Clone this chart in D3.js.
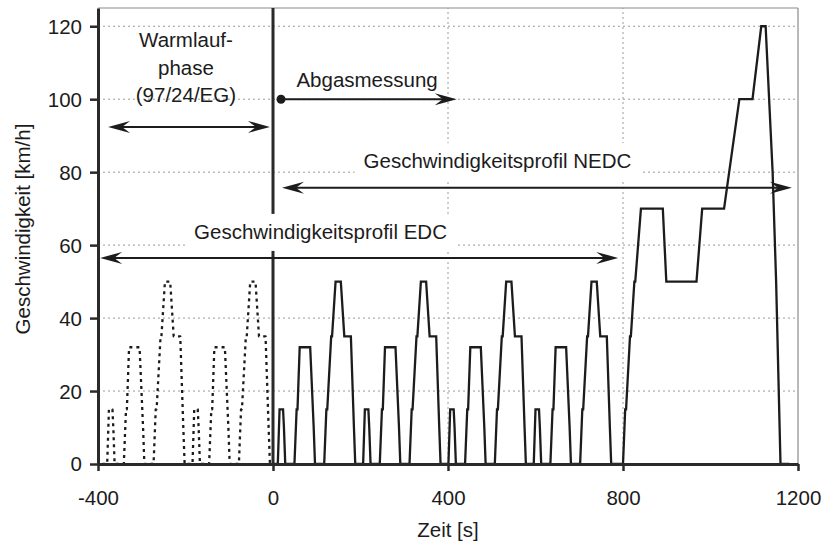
<!DOCTYPE html>
<html>
<head>
<meta charset="utf-8">
<script src="https://cdn.jsdelivr.net/npm/d3@7"></script>
<style>
  html, body { margin: 0; padding: 0; background: #fff; }
  svg { display: block; }
  text { font-family: "Liberation Sans", Arial, Helvetica, sans-serif; fill: #1c1c1c; }
</style>
</head>
<body>
<svg id="chart" width="830" height="545"></svg>
<script>
// Warm-up phase: two urban (ECE) cycles before the measurement starts
const warmupTime = [
  -390, -379, -375, -367, -365, -362, -341, -336, -334, -329, -305, -297, -294,
  -273, -268, -266, -257, -255, -247, -235, -227, -214, -212, -205, -202,
  -195, -184, -180, -172, -170, -167, -146, -141, -139, -134, -110, -102, -99,
  -78, -73, -71, -62, -60, -52, -40, -32, -19, -17, -10, -7, 0
];
const warmupSpeed = [
  0, 0, 15, 15, 10, 0, 0, 15, 15, 32, 32, 10, 0,
  0, 15, 15, 35, 35, 50, 50, 35, 35, 35, 10, 0,
  0, 0, 15, 15, 10, 0, 0, 15, 15, 32, 32, 10, 0,
  0, 15, 15, 35, 35, 50, 50, 35, 35, 35, 10, 0, 0
];

// Measured profile: four urban cycles followed by the extra-urban part
const nedcTime = [
  0, 11, 15, 23, 25, 28, 49, 54, 56, 61, 85, 93, 96,
  117, 122, 124, 133, 135, 143, 155, 163, 176, 178, 185, 188,
  195, 206, 210, 218, 220, 223, 244, 249, 251, 256, 280, 288, 291,
  312, 317, 319, 328, 330, 338, 350, 358, 371, 373, 380, 383,
  390, 401, 405, 413, 415, 418, 439, 444, 446, 451, 475, 483, 486,
  507, 512, 514, 523, 525, 533, 545, 553, 566, 568, 575, 578,
  585, 596, 600, 608, 610, 613, 634, 639, 641, 646, 670, 678, 681,
  702, 707, 709, 718, 720, 728, 740, 748, 761, 763, 770, 773,
  780, 800, 805, 807, 816, 818, 826, 828, 841, 891, 899, 968, 981,
  1031, 1066, 1096, 1116, 1126, 1142, 1150, 1160, 1180
];
const nedcSpeed = [
  0, 0, 15, 15, 10, 0, 0, 15, 15, 32, 32, 10, 0,
  0, 15, 15, 35, 35, 50, 50, 35, 35, 35, 10, 0,
  0, 0, 15, 15, 10, 0, 0, 15, 15, 32, 32, 10, 0,
  0, 15, 15, 35, 35, 50, 50, 35, 35, 35, 10, 0,
  0, 0, 15, 15, 10, 0, 0, 15, 15, 32, 32, 10, 0,
  0, 15, 15, 35, 35, 50, 50, 35, 35, 35, 10, 0,
  0, 0, 15, 15, 10, 0, 0, 15, 15, 32, 32, 10, 0,
  0, 15, 15, 35, 35, 50, 50, 35, 35, 35, 10, 0,
  0, 0, 15, 15, 35, 35, 50, 50, 70, 70, 50, 50, 70,
  70, 100, 100, 120, 120, 80, 50, 0, 0
];

const xTicks = [-400, 0, 400, 800, 1200];
const yTicks = [0, 20, 40, 60, 80, 100, 120];
const xGrid = [400, 800];
const yGrid = [20, 40, 60, 80, 100, 120];

// Range arrows (time in s, speed level in km/h)
const spans = [
  { from: -377, to: -7, level: 92.4, heads: "both" },
  { from: 18.3, to: 420, level: 100, heads: "end", dot: true },
  { from: 20.6, to: 1186, level: 75.7, heads: "both" },
  { from: -395, to: 789, level: 56.5, heads: "both" }
];

// Labels (centre time, baseline speed)
const labels = [
  { lines: ["Warmlauf-", "phase", "(97/24/EG)"], t: -199, v: 114.3, box: false },
  { lines: ["Abgasmessung"], t: 215, v: 103.3, box: false },
  { lines: ["Geschwindigkeitsprofil NEDC"], t: 513, v: 81.1, box: true },
  { lines: ["Geschwindigkeitsprofil EDC"], t: 108.6, v: 61.7, box: true }
];

const W = 830, H = 545;
const margin = { top: 8, right: 32, bottom: 81, left: 98 };
const fontSize = 20.5;
const ink = "#1c1c1c";

const svg = d3.select("#chart");
const x = d3.scaleLinear().domain([-400, 1200]).range([margin.left, W - margin.right]);
const y = d3.scaleLinear().domain([0, 125]).range([H - margin.bottom, margin.top]);

const gGrid = svg.append("g");
const gBox = svg.append("g");
const gCurve = svg.append("g");
const gAxis = svg.append("g");
const gAnno = svg.append("g");

// dotted grid
gGrid.selectAll("line.h").data(yGrid).join("line")
  .attr("x1", x(-400)).attr("x2", x(1200))
  .attr("y1", d => y(d)).attr("y2", d => y(d))
  .attr("stroke", "#9a9a9a").attr("stroke-width", 1).attr("stroke-dasharray", "2,3");
gGrid.selectAll("line.v").data(xGrid).join("line")
  .attr("y1", y(0)).attr("y2", y(125))
  .attr("x1", d => x(d)).attr("x2", d => x(d))
  .attr("stroke", "#9a9a9a").attr("stroke-width", 1).attr("stroke-dasharray", "2,3");

// frame: thin top and right edges
gGrid.append("line").attr("x1", x(-400)).attr("x2", x(1200)).attr("y1", y(125)).attr("y2", y(125))
  .attr("stroke", "#8a8a8a").attr("stroke-width", 1.2);
gGrid.append("line").attr("x1", x(1200)).attr("x2", x(1200)).attr("y1", y(125)).attr("y2", y(0))
  .attr("stroke", "#8a8a8a").attr("stroke-width", 1.2);

// start of the measurement
gGrid.append("line").attr("x1", x(0)).attr("x2", x(0)).attr("y1", y(125)).attr("y2", y(0))
  .attr("stroke", "#2a2a2a").attr("stroke-width", 3);

// speed curves
const line = d3.line().x(d => x(d[0])).y(d => y(d[1]));
gCurve.append("path")
  .attr("d", line(d3.zip(warmupTime, warmupSpeed)))
  .attr("fill", "none").attr("stroke", ink).attr("stroke-width", 2.3)
  .attr("stroke-dasharray", "3,4").attr("stroke-linejoin", "round");
gCurve.append("path")
  .attr("d", line(d3.zip(nedcTime, nedcSpeed)))
  .attr("fill", "none").attr("stroke", ink).attr("stroke-width", 2.3)
  .attr("stroke-linejoin", "miter");

// axes
const yAxis = d3.axisLeft(y).tickValues(yTicks).tickSize(8).tickSizeOuter(0).tickPadding(8)
  .tickFormat(d => String(d));
const xAxis = d3.axisBottom(x).tickValues(xTicks).tickSize(7).tickSizeOuter(0).tickPadding(19)
  .tickFormat(d => String(d));

const gy = gAxis.append("g").attr("transform", `translate(${margin.left},0)`).call(yAxis);
const gx = gAxis.append("g").attr("transform", `translate(0,${H - margin.bottom})`).call(xAxis);
[gx, gy].forEach(g => {
  g.select(".domain").attr("stroke", "#2a2a2a").attr("stroke-width", 3);
  g.selectAll(".tick line").attr("stroke", "#2a2a2a").attr("stroke-width", 2.5);
  g.selectAll(".tick text").attr("fill", ink).style("font-size", fontSize + "px")
    .style("font-family", '"Liberation Sans", Arial, sans-serif');
});
gy.selectAll(".tick text").attr("dy", "0.34em");

// axis titles
svg.append("text").attr("x", x(400)).attr("y", 537).attr("text-anchor", "middle")
  .style("font-size", fontSize + "px").text("Zeit [s]");
svg.append("text").attr("transform", `translate(30,${(y(0) + y(125)) / 2 - 7}) rotate(-90)`)
  .attr("text-anchor", "middle").style("font-size", fontSize + "px").text("Geschwindigkeit [km/h]");

// arrowheads
function head(px, py, dir) {
  const L = 22, Wd = 6, N = 8;
  const pts = [[0, 0], [-L, -Wd], [-L + N, 0], [-L, Wd]]
    .map(([a, b]) => [px + dir * a, py + b]);
  gAnno.append("path").attr("d", "M" + pts.map(p => p.join(",")).join("L") + "Z").attr("fill", ink);
}
spans.forEach(s => {
  const x1 = x(s.from), x2 = x(s.to), yy = y(s.level);
  gAnno.append("line").attr("x1", x1 + (s.heads === "both" ? 8 : 0)).attr("x2", x2 - 8)
    .attr("y1", yy).attr("y2", yy).attr("stroke", ink).attr("stroke-width", 2);
  head(x2, yy, 1);
  if (s.heads === "both") head(x1, yy, -1);
  if (s.dot) gAnno.append("circle").attr("cx", x1).attr("cy", yy).attr("r", 4.5).attr("fill", ink);
});

// labels, some on a white ground that interrupts the grid
labels.forEach(l => {
  const t = gAnno.append("text").attr("text-anchor", "middle").style("font-size", fontSize + "px");
  l.lines.forEach((s, i) => {
    t.append("tspan").attr("x", x(l.t)).attr("y", y(l.v) + i * 27.5).text(s);
  });
  if (l.box) {
    const b = t.node().getBBox();
    gBox.append("rect").attr("x", b.x - 9).attr("y", b.y - 6).attr("width", b.width + 18)
      .attr("height", b.height + 14).attr("fill", "#fff");
  }
});
</script>
</body>
</html>
